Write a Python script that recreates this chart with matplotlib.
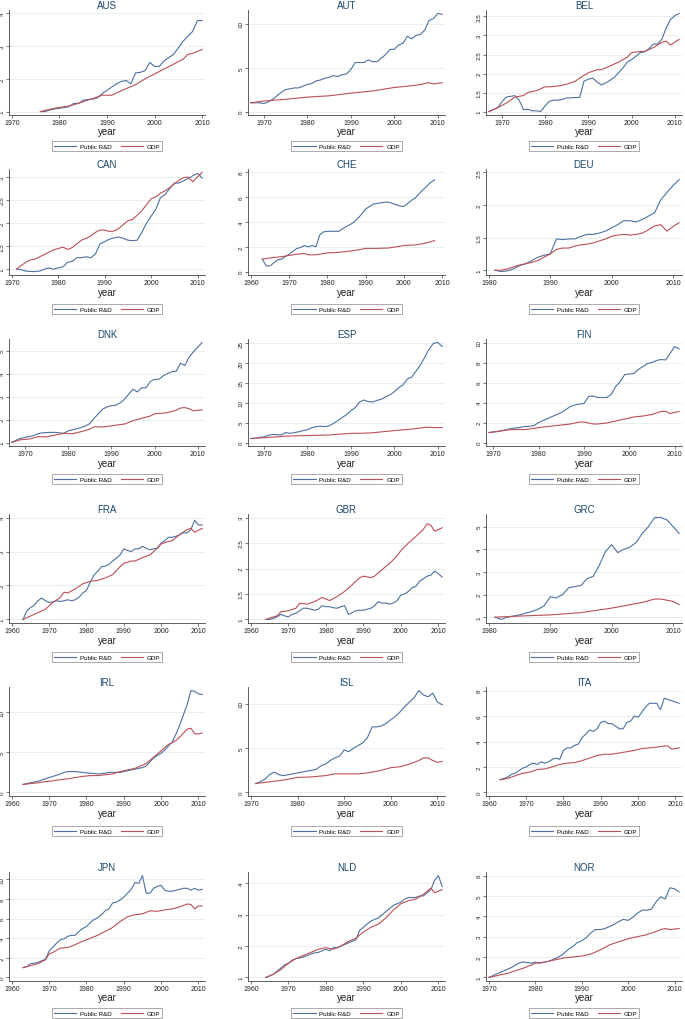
import matplotlib.pyplot as plt
import numpy as np

plt.rcParams['font.family'] = ['Liberation Sans', 'DejaVu Sans']

# Public R&D: first year + one value per year
aus_rd_start = 1976
aus_rd = [1.0, 1.0, 1.05, 1.08, 1.1, 1.12, 1.15, 1.25, 1.25, 1.35, 1.37, 1.38, 1.42, 1.55, 1.65,
          1.75, 1.85, 1.92, 1.95, 1.85, 2.18, 2.2, 2.25, 2.5, 2.38, 2.38, 2.55, 2.65, 2.75, 2.95,
          3.15, 3.3, 3.45, 3.78, 3.78]
aut_rd_start = 1967
aut_rd = [1.0, 1.0, 1.0, 0.9, 1.1, 1.4, 1.8, 2.2, 2.5, 2.6, 2.7, 2.7, 2.9, 3.1, 3.2, 3.5, 3.6,
          3.8, 3.9, 4.1, 4.0, 4.2, 4.3, 4.8, 5.6, 5.6, 5.6, 5.9, 5.7, 5.7, 6.1, 6.5, 7.1, 7.1,
          7.6, 7.8, 8.6, 8.3, 8.7, 8.8, 9.3, 10.4, 10.6, 11.2, 11.1]
bel_rd_start = 1967
bel_rd = [1.0, 1.05, 1.1, 1.25, 1.38, 1.4, 1.42, 1.3, 1.05, 1.06, 1.02, 1.02, 1.0, 1.15, 1.27,
          1.3, 1.3, 1.32, 1.36, 1.36, 1.37, 1.37, 1.8, 1.85, 1.88, 1.78, 1.7, 1.75, 1.82, 1.9,
          2.02, 2.15, 2.3, 2.37, 2.45, 2.55, 2.57, 2.65, 2.77, 2.78, 2.9, 3.2, 3.42, 3.52, 3.58]
can_rd_start = 1971
can_rd = [1.0, 0.99, 0.96, 0.95, 0.95, 0.96, 1.0, 1.03, 1.0, 1.03, 1.05, 1.15, 1.17, 1.25, 1.25,
          1.27, 1.25, 1.33, 1.55, 1.6, 1.65, 1.68, 1.7, 1.67, 1.63, 1.62, 1.63, 1.8, 2.0, 2.15,
          2.3, 2.55, 2.62, 2.75, 2.87, 2.87, 2.92, 2.97, 3.03, 3.08, 2.98]
che_rd_start = 1963
che_rd = [1.0, 0.45, 0.45, 0.7, 0.95, 1.0, 1.2, 1.4, 1.65, 1.85, 1.95, 2.1, 2.0, 2.1, 2.0, 2.95,
          3.2, 3.25, 3.25, 3.25, 3.25, 3.45, 3.65, 3.8, 4.0, 4.3, 4.65, 5.05, 5.25, 5.45, 5.5,
          5.55, 5.6, 5.6, 5.5, 5.4, 5.3, 5.25, 5.5, 5.75, 5.95, 6.3, 6.6, 6.9, 7.2, 7.4]
deu_rd_start = 1981
deu_rd = [1.0, 0.98, 0.99, 1.02, 1.07, 1.1, 1.15, 1.2, 1.23, 1.25, 1.48, 1.47, 1.48, 1.48, 1.52,
          1.55, 1.55, 1.57, 1.6, 1.65, 1.7, 1.76, 1.76, 1.74, 1.78, 1.83, 1.88, 2.08, 2.19, 2.3,
          2.39]
dnk_rd_start = 1967
dnk_rd = [1.0, 1.1, 1.18, 1.22, 1.26, 1.3, 1.38, 1.42, 1.43, 1.44, 1.44, 1.42, 1.4, 1.5, 1.55,
          1.6, 1.65, 1.72, 1.82, 2.05, 2.25, 2.45, 2.55, 2.6, 2.62, 2.72, 2.87, 3.1, 3.32, 3.2,
          3.38, 3.38, 3.65, 3.75, 3.75, 3.9, 4.0, 4.08, 4.1, 4.45, 4.35, 4.72, 4.95, 5.15, 5.35]
esp_rd_start = 1967
esp_rd = [1.0, 1.1, 1.3, 1.4, 1.8, 2.0, 2.0, 1.9, 2.5, 2.3, 2.5, 2.7, 3.0, 3.2, 3.7, 4.0, 4.1,
          4.0, 4.2, 4.8, 5.5, 6.3, 7.0, 8.0, 8.8, 10.2, 10.7, 10.3, 10.2, 10.6, 10.9, 11.5, 12.0,
          12.8, 13.8, 14.5, 16.0, 16.5, 18.0, 19.5, 21.5, 23.5, 25.0, 25.2, 24.2]
fin_rd_start = 1969
fin_rd = [1.0, 1.05, 1.12, 1.2, 1.3, 1.4, 1.45, 1.52, 1.6, 1.62, 1.7, 2.0, 2.2, 2.4, 2.6, 2.8,
          3.0, 3.3, 3.6, 3.75, 3.85, 3.9, 4.6, 4.65, 4.5, 4.5, 4.5, 4.8, 5.6, 6.1, 6.8, 6.85, 6.9,
          7.3, 7.6, 7.9, 8.0, 8.2, 8.3, 8.25, 8.9, 9.6, 9.35]
fra_rd_start = 1963
fra_rd = [1.0, 1.25, 1.35, 1.42, 1.55, 1.63, 1.55, 1.5, 1.52, 1.55, 1.53, 1.55, 1.58, 1.55, 1.58,
          1.65, 1.78, 1.85, 2.1, 2.3, 2.42, 2.55, 2.57, 2.62, 2.72, 2.8, 2.9, 3.08, 3.03, 3.0,
          3.08, 3.08, 3.15, 3.1, 3.05, 3.08, 3.1, 3.25, 3.32, 3.42, 3.42, 3.45, 3.5, 3.55, 3.55,
          3.65, 3.92, 3.78, 3.78]
gbr_rd_start = 1964
gbr_rd = [1.0, 1.0, 1.02, 1.05, 1.1, 1.07, 1.05, 1.1, 1.12, 1.17, 1.22, 1.22, 1.2, 1.18, 1.2,
          1.27, 1.25, 1.25, 1.23, 1.22, 1.25, 1.27, 1.1, 1.13, 1.17, 1.18, 1.18, 1.2, 1.22, 1.27,
          1.35, 1.32, 1.32, 1.3, 1.32, 1.37, 1.48, 1.5, 1.55, 1.62, 1.65, 1.75, 1.8, 1.85, 1.87,
          1.95, 1.9, 1.83]
grc_rd_start = 1981
grc_rd = [1.0, 0.9, 1.0, 1.05, 1.1, 1.18, 1.25, 1.35, 1.5, 1.9, 1.85, 2.0, 2.3, 2.35, 2.4, 2.7,
          2.8, 3.3, 3.9, 4.2, 3.85, 4.0, 4.1, 4.3, 4.7, 5.0, 5.4, 5.4, 5.3, 5.0, 4.7]
irl_rd_start = 1963
irl_rd = [1.0, 1.1, 1.2, 1.3, 1.4, 1.55, 1.7, 1.85, 2.0, 2.15, 2.3, 2.5, 2.6, 2.6, 2.6, 2.55,
          2.5, 2.45, 2.4, 2.35, 2.3, 2.35, 2.4, 2.5, 2.5, 2.5, 2.5, 2.6, 2.7, 2.8, 2.9, 3.0, 3.1,
          3.3, 3.8, 4.3, 4.6, 4.9, 5.3, 5.8, 6.3, 7.3, 8.4, 9.7, 11.0, 12.7, 12.6, 12.3, 12.2]
isl_rd_start = 1971
isl_rd = [1.0, 1.2, 1.5, 2.0, 2.3, 2.0, 1.9, 2.0, 2.1, 2.2, 2.3, 2.4, 2.5, 2.6, 3.0, 3.2, 3.6,
          3.9, 4.1, 4.8, 4.6, 5.0, 5.3, 5.6, 6.2, 7.4, 7.4, 7.5, 7.8, 8.2, 8.6, 9.1, 9.7, 10.2,
          10.7, 11.5, 11.0, 10.8, 11.2, 10.2, 9.9]
ita_rd_start = 1963
ita_rd = [1.0, 1.1, 1.2, 1.4, 1.5, 1.7, 1.9, 2.0, 2.2, 2.3, 2.2, 2.4, 2.3, 2.4, 2.6, 2.7, 2.6,
          3.3, 3.5, 3.5, 3.7, 3.8, 4.3, 4.6, 4.9, 4.8, 5.0, 5.5, 5.6, 5.4, 5.4, 5.2, 5.0, 5.0,
          5.5, 5.6, 6.0, 5.9, 6.3, 6.7, 7.0, 7.0, 7.0, 6.5, 7.4, 7.3, 7.2, 7.1, 7.0]
jpn_rd_start = 1963
jpn_rd = [1.0, 1.1, 1.4, 1.45, 1.55, 1.7, 1.85, 2.7, 3.1, 3.5, 3.85, 3.95, 4.2, 4.3, 4.3, 4.7,
          5.0, 5.2, 5.6, 5.9, 6.1, 6.4, 6.8, 7.0, 7.6, 7.7, 7.9, 8.2, 8.6, 9.0, 9.7, 9.6, 10.4,
          8.6, 8.6, 9.1, 9.3, 9.4, 8.9, 8.8, 8.8, 8.9, 9.0, 9.1, 9.1, 8.9, 9.1, 8.9, 9.0]
nld_rd_start = 1964
nld_rd = [1.0, 1.05, 1.1, 1.2, 1.3, 1.4, 1.45, 1.55, 1.6, 1.62, 1.65, 1.7, 1.75, 1.78, 1.8,
          1.85, 1.9, 1.85, 1.95, 1.95, 2.0, 2.05, 2.1, 2.15, 2.2, 2.5, 2.6, 2.7, 2.8, 2.85, 2.9,
          3.0, 3.1, 3.2, 3.3, 3.35, 3.4, 3.5, 3.55, 3.55, 3.55, 3.6, 3.6, 3.7, 3.8, 4.1, 4.25, 3.9]
nor_rd_start = 1970
nor_rd = [1.0, 1.1, 1.2, 1.3, 1.4, 1.5, 1.65, 1.75, 1.75, 1.7, 1.75, 1.7, 1.75, 1.8, 1.9, 2.0,
          2.15, 2.35, 2.5, 2.7, 2.8, 2.95, 3.2, 3.35, 3.35, 3.4, 3.5, 3.6, 3.75, 3.85, 3.8, 3.95,
          4.15, 4.3, 4.3, 4.35, 4.7, 4.95, 4.85, 5.4, 5.35, 5.2]

# GDP: years and values
aus_gdp_years = [1976, 1978, 1980, 1982, 1984, 1986, 1988, 1989, 1990, 1991, 1992, 1994, 1996,
                 1998, 2000, 2002, 2004, 2006, 2007, 2008, 2010]
aus_gdp = [1.0, 1.07, 1.13, 1.17, 1.25, 1.35, 1.45, 1.5, 1.5, 1.5, 1.57, 1.7, 1.82, 2.0, 2.15,
           2.3, 2.45, 2.6, 2.75, 2.78, 2.9]
aut_gdp_years = [1967, 1970, 1975, 1980, 1985, 1990, 1995, 2000, 2005, 2008, 2009, 2011]
aut_gdp = [1.0, 1.2, 1.4, 1.65, 1.8, 2.1, 2.35, 2.75, 3.0, 3.3, 3.15, 3.3]
bel_gdp_years = [1967, 1969, 1971, 1973, 1975, 1976, 1978, 1980, 1981, 1983, 1985, 1987, 1988,
                 1990, 1992, 1993, 1995, 1997, 1999, 2000, 2002, 2003, 2005, 2007, 2008, 2009, 2011]
bel_gdp = [1.0, 1.1, 1.22, 1.38, 1.42, 1.5, 1.55, 1.65, 1.65, 1.67, 1.72, 1.8, 1.88, 2.02, 2.1,
           2.1, 2.2, 2.3, 2.43, 2.55, 2.58, 2.58, 2.68, 2.82, 2.85, 2.75, 2.9]
can_gdp_years = list(range(1971, 2012))
can_gdp = [1.0, 1.08, 1.15, 1.2, 1.22, 1.27, 1.32, 1.37, 1.42, 1.45, 1.48, 1.43, 1.47, 1.55, 1.63,
           1.67, 1.72, 1.8, 1.85, 1.85, 1.82, 1.83, 1.88, 1.97, 2.05, 2.08, 2.17, 2.27, 2.4, 2.53,
           2.57, 2.65, 2.7, 2.77, 2.85, 2.93, 2.99, 3.0, 2.9, 3.0, 3.1]
che_gdp_years = [1963, 1965, 1968, 1970, 1972, 1974, 1975, 1977, 1980, 1983, 1986, 1989, 1990,
                 1993, 1996, 1998, 2000, 2003, 2005, 2007, 2008]
che_gdp = [1.0, 1.1, 1.2, 1.3, 1.4, 1.45, 1.35, 1.35, 1.5, 1.55, 1.65, 1.8, 1.87, 1.87, 1.9, 2.0,
           2.1, 2.15, 2.25, 2.4, 2.5]
deu_gdp_years = list(range(1981, 2012))
deu_gdp = [1.0, 1.0, 1.02, 1.05, 1.08, 1.1, 1.12, 1.15, 1.2, 1.25, 1.32, 1.34, 1.34, 1.37, 1.39,
           1.4, 1.42, 1.45, 1.48, 1.52, 1.54, 1.55, 1.54, 1.55, 1.57, 1.62, 1.68, 1.7, 1.6, 1.67,
           1.73]
dnk_gdp_years = [1967, 1969, 1971, 1973, 1975, 1977, 1979, 1981, 1983, 1985, 1986, 1988, 1990,
                 1992, 1993, 1995, 1997, 1999, 2000, 2002, 2003, 2005, 2006, 2007, 2008, 2009, 2011]
dnk_gdp = [1.0, 1.12, 1.15, 1.25, 1.25, 1.32, 1.4, 1.38, 1.47, 1.58, 1.68, 1.68, 1.72, 1.78, 1.8,
           1.95, 2.05, 2.15, 2.25, 2.28, 2.3, 2.4, 2.5, 2.52, 2.47, 2.38, 2.42]
esp_gdp_years = [1967, 1970, 1975, 1980, 1985, 1990, 1993, 1995, 2000, 2005, 2007, 2008, 2009, 2011]
esp_gdp = [1.0, 1.2, 1.6, 1.75, 1.9, 2.3, 2.35, 2.45, 3.0, 3.5, 3.8, 3.85, 3.75, 3.75]
fin_gdp_years = [1969, 1971, 1973, 1975, 1977, 1979, 1981, 1983, 1985, 1987, 1989, 1990, 1991,
                 1992, 1993, 1995, 1997, 1999, 2001, 2003, 2005, 2007, 2008, 2009, 2011]
fin_gdp = [1.0, 1.1, 1.25, 1.3, 1.3, 1.42, 1.55, 1.65, 1.75, 1.85, 2.05, 2.05, 1.95, 1.85, 1.85,
           1.95, 2.15, 2.35, 2.55, 2.65, 2.8, 3.1, 3.12, 2.9, 3.1]
fra_gdp_years = [1963, 1965, 1967, 1969, 1971, 1973, 1974, 1975, 1977, 1979, 1981, 1983, 1985,
                 1987, 1989, 1990, 1992, 1993, 1995, 1997, 1999, 2000, 2002, 2003, 2005, 2007,
                 2008, 2009, 2011]
fra_gdp = [1.0, 1.1, 1.2, 1.3, 1.5, 1.65, 1.8, 1.78, 1.9, 2.05, 2.12, 2.15, 2.22, 2.32, 2.55, 2.65,
           2.72, 2.72, 2.82, 2.9, 3.1, 3.22, 3.3, 3.32, 3.5, 3.65, 3.68, 3.57, 3.68]
gbr_gdp_years = [1964, 1966, 1967, 1968, 1970, 1972, 1973, 1975, 1977, 1979, 1981, 1983, 1985,
                 1987, 1989, 1990, 1992, 1993, 1995, 1997, 1999, 2000, 2002, 2004, 2006, 2007,
                 2008, 2009, 2011]
gbr_gdp = [1.0, 1.05, 1.07, 1.15, 1.17, 1.22, 1.32, 1.3, 1.35, 1.43, 1.37, 1.45, 1.55, 1.68, 1.82,
           1.85, 1.82, 1.85, 1.98, 2.1, 2.25, 2.35, 2.5, 2.63, 2.77, 2.88, 2.85, 2.73, 2.8]
grc_gdp_years = [1981, 1985, 1990, 1995, 2000, 2003, 2005, 2007, 2008, 2009, 2010, 2011]
grc_gdp = [1.0, 1.05, 1.1, 1.2, 1.4, 1.55, 1.65, 1.8, 1.8, 1.75, 1.7, 1.55]
irl_gdp_years = [1963, 1965, 1967, 1969, 1971, 1973, 1975, 1977, 1979, 1981, 1983, 1985, 1987,
                 1989, 1991, 1993, 1995, 1996, 1997, 1998, 1999, 2000, 2001, 2002, 2003, 2004,
                 2005, 2006, 2007, 2008, 2009, 2010, 2011]
irl_gdp = [1.0, 1.1, 1.2, 1.35, 1.45, 1.6, 1.7, 1.85, 2.0, 2.1, 2.1, 2.2, 2.3, 2.6, 2.8, 3.0, 3.4,
           3.6, 4.0, 4.4, 4.8, 5.2, 5.6, 6.0, 6.2, 6.5, 6.9, 7.4, 7.9, 8.0, 7.3, 7.3, 7.4]
isl_gdp_years = [1971, 1974, 1977, 1980, 1983, 1986, 1988, 1990, 1993, 1995, 1998, 2000, 2002,
                 2004, 2006, 2007, 2008, 2009, 2010, 2011]
isl_gdp = [1.0, 1.2, 1.4, 1.7, 1.75, 1.9, 2.1, 2.1, 2.1, 2.2, 2.5, 2.8, 2.9, 3.2, 3.6, 3.9, 3.9,
           3.6, 3.4, 3.5]
ita_gdp_years = [1963, 1965, 1967, 1969, 1971, 1973, 1975, 1977, 1979, 1981, 1983, 1985, 1987,
                 1989, 1991, 1993, 1995, 1997, 1999, 2001, 2003, 2005, 2007, 2008, 2009, 2011]
ita_gdp = [1.0, 1.1, 1.3, 1.5, 1.6, 1.8, 1.85, 2.0, 2.2, 2.3, 2.35, 2.5, 2.7, 2.9, 3.0, 3.0, 3.1,
           3.2, 3.3, 3.45, 3.5, 3.55, 3.65, 3.65, 3.4, 3.5]
jpn_gdp_years = [1963, 1965, 1967, 1969, 1970, 1971, 1973, 1975, 1977, 1979, 1981, 1983, 1985,
                 1987, 1989, 1991, 1993, 1995, 1997, 1999, 2001, 2003, 2005, 2007, 2008, 2009,
                 2010, 2011]
jpn_gdp = [1.0, 1.2, 1.4, 1.8, 2.4, 2.55, 3.0, 3.05, 3.35, 3.7, 4.0, 4.3, 4.7, 5.1, 5.7, 6.2, 6.4,
           6.5, 6.8, 6.75, 6.9, 7.0, 7.2, 7.5, 7.45, 7.0, 7.3, 7.3]
nld_gdp_years = [1964, 1966, 1968, 1970, 1972, 1974, 1976, 1978, 1980, 1982, 1984, 1986, 1988,
                 1990, 1992, 1994, 1996, 1998, 2000, 2002, 2004, 2006, 2008, 2009, 2010, 2011]
nld_gdp = [1.0, 1.1, 1.25, 1.45, 1.6, 1.7, 1.8, 1.9, 1.95, 1.9, 2.0, 2.15, 2.25, 2.45, 2.6, 2.7,
           2.9, 3.15, 3.35, 3.45, 3.5, 3.65, 3.85, 3.7, 3.75, 3.8]
nor_gdp_years = [1970, 1972, 1974, 1976, 1978, 1980, 1982, 1984, 1986, 1988, 1990, 1992, 1994,
                 1996, 1998, 2000, 2002, 2004, 2006, 2007, 2008, 2009, 2011]
nor_gdp = [1.0, 1.1, 1.2, 1.35, 1.5, 1.7, 1.75, 1.85, 1.95, 2.0, 2.05, 2.15, 2.35, 2.6, 2.75, 2.9,
           3.0, 3.1, 3.25, 3.35, 3.4, 3.35, 3.4]

# axis ticks per panel
xt60 = [1960, 1970, 1980, 1990, 2000, 2010]
xt70 = [1970, 1980, 1990, 2000, 2010]
xt80 = [1980, 1990, 2000, 2010]

panels = [
    ('AUS', aus_rd_start, aus_rd, aus_gdp_years, aus_gdp, xt70, [1, 2, 3, 4]),
    ('AUT', aut_rd_start, aut_rd, aut_gdp_years, aut_gdp, xt70, [0, 5, 10]),
    ('BEL', bel_rd_start, bel_rd, bel_gdp_years, bel_gdp, xt70, [1, 1.5, 2, 2.5, 3, 3.5]),
    ('CAN', can_rd_start, can_rd, can_gdp_years, can_gdp, xt70, [1, 1.5, 2, 2.5, 3]),
    ('CHE', che_rd_start, che_rd, che_gdp_years, che_gdp, xt60, [0, 2, 4, 6, 8]),
    ('DEU', deu_rd_start, deu_rd, deu_gdp_years, deu_gdp, xt80, [1, 1.5, 2, 2.5]),
    ('DNK', dnk_rd_start, dnk_rd, dnk_gdp_years, dnk_gdp, xt70, [1, 2, 3, 4, 5]),
    ('ESP', esp_rd_start, esp_rd, esp_gdp_years, esp_gdp, xt70, [0, 5, 10, 15, 20, 25]),
    ('FIN', fin_rd_start, fin_rd, fin_gdp_years, fin_gdp, xt70, [0, 2, 4, 6, 8, 10]),
    ('FRA', fra_rd_start, fra_rd, fra_gdp_years, fra_gdp, xt60, [1, 2, 3, 4]),
    ('GBR', gbr_rd_start, gbr_rd, gbr_gdp_years, gbr_gdp, xt60, [1, 1.5, 2, 2.5, 3]),
    ('GRC', grc_rd_start, grc_rd, grc_gdp_years, grc_gdp, xt80, [1, 2, 3, 4, 5]),
    ('IRL', irl_rd_start, irl_rd, irl_gdp_years, irl_gdp, xt60, [0, 5, 10]),
    ('ISL', isl_rd_start, isl_rd, isl_gdp_years, isl_gdp, xt70, [0, 5, 10]),
    ('ITA', ita_rd_start, ita_rd, ita_gdp_years, ita_gdp, xt60, [0, 2, 4, 6, 8]),
    ('JPN', jpn_rd_start, jpn_rd, jpn_gdp_years, jpn_gdp, xt60, [0, 2, 4, 6, 8, 10]),
    ('NLD', nld_rd_start, nld_rd, nld_gdp_years, nld_gdp, xt60, [1, 2, 3, 4]),
    ('NOR', nor_rd_start, nor_rd, nor_gdp_years, nor_gdp, xt70, [1, 2, 3, 4, 5, 6]),
]

W, H = 685, 1020
fig = plt.figure(figsize=(W / 100, H / 100), dpi=100)

# pixel layout: plot top, plot bottom, "year" centre, legend centre
rows = [(11, 116, 132, 147), (170, 276, 293, 310), (340, 447, 464, 480),
        (515, 624, 641, 658), (688, 797, 814, 832), (873, 982, 998, 1014)]
cols = [(9, 205), (248, 445), (486, 682)]

blue = '#4d70a0'
red = '#bb5055'
navy = '#1a476f'
axcol = '#444444'

for i, (name, rd_start, rd, gdp_years, gdp, xt, yt) in enumerate(panels):
    r, c = divmod(i, 3)
    top, bot, year_y, leg_y = rows[r]
    left, right = cols[c]
    ax = fig.add_axes([left / W, 1 - bot / H, (right - left) / W, (bot - top) / H])

    rd_years = rd_start + np.arange(len(rd))
    for v in yt:
        ax.axhline(v, color='#e4ecef', lw=0.6, zorder=0)
    l1, = ax.plot(rd_years, rd, color=blue, lw=0.8)
    l2, = ax.plot(gdp_years, gdp, color=red, lw=0.8)

    lo = min(xt[0], rd_years[0], gdp_years[0])
    hi = max(xt[-1], rd_years[-1], gdp_years[-1])
    pad = 0.015 * (hi - lo)
    ax.set_xlim(lo - pad, hi + pad)
    ylo = min(yt[0], min(rd), min(gdp))
    yhi = max(yt[-1], max(rd), max(gdp))
    pad = 0.035 * (yhi - ylo)
    ax.set_ylim(ylo - pad, yhi + pad)

    ax.set_xticks(xt)
    ax.set_xticklabels([str(v) for v in xt], fontsize=5)
    ax.set_yticks(yt)
    ax.set_yticklabels(['%g' % v for v in yt], fontsize=4.5, rotation=90, va='center')
    ax.tick_params(axis='both', length=2, width=0.5, color=axcol, pad=1, labelcolor='#222222')
    for s in ['top', 'right']:
        ax.spines[s].set_visible(False)
    for s in ['left', 'bottom']:
        ax.spines[s].set_color(axcol)
        ax.spines[s].set_linewidth(0.6)

    ax.set_title(name, fontsize=7, color=navy, pad=1.5)
    cx = (left + right) / 2 / W
    fig.text(cx, 1 - year_y / H, 'year', fontsize=7, ha='center', va='center', color='#222222')
    leg = fig.legend([l1, l2], ['Public R&D', 'GDP'], loc='center',
                     bbox_to_anchor=(cx, 1 - leg_y / H), ncol=2, fontsize=4.5, frameon=True,
                     fancybox=False, edgecolor='#888888', framealpha=1, borderpad=0.35,
                     handlelength=3.6, handletextpad=0.6, columnspacing=1.4, borderaxespad=0)
    leg.get_frame().set_linewidth(0.5)

fig.savefig('out.png', dpi=100, facecolor='white')
